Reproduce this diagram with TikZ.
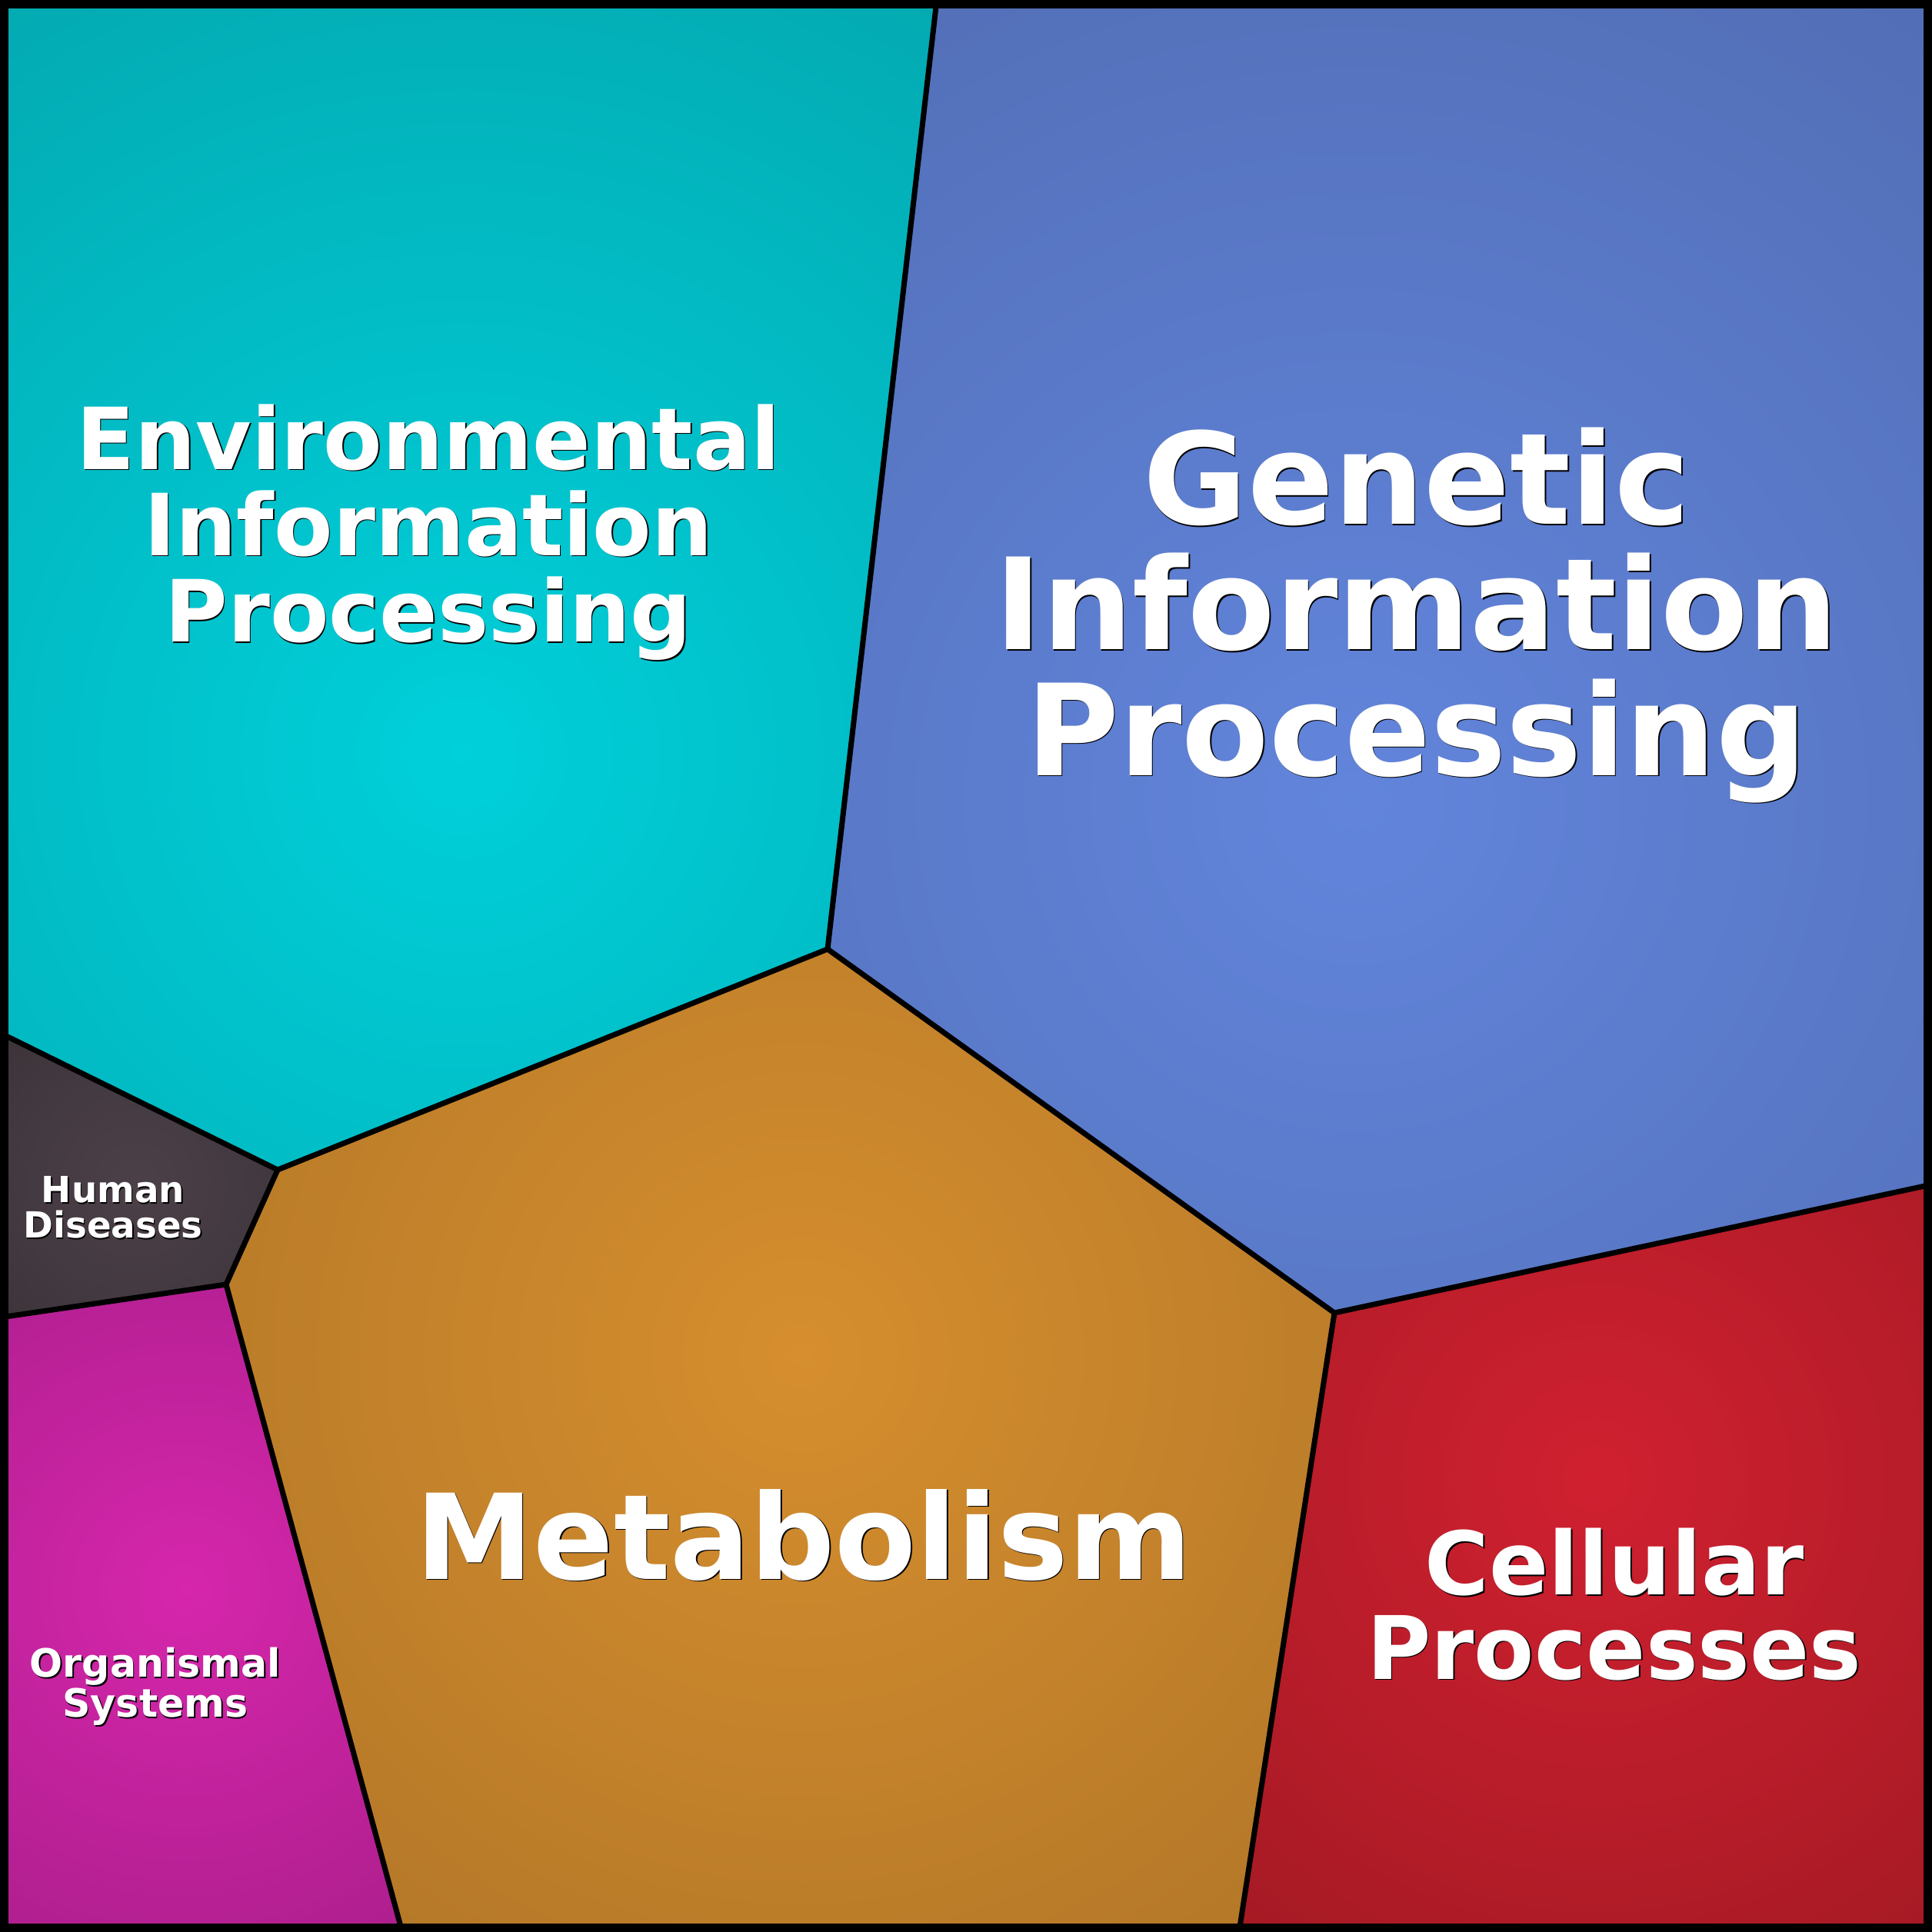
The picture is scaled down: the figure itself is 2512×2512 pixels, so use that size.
\documentclass[tikz,border=0pt]{standalone}
\usepackage{fontspec}
\setmainfont{DejaVu Sans}
\usetikzlibrary{calc}

\definecolor{envin}{RGB}{0,208,218}
\definecolor{envout}{RGB}{3,170,178}
\definecolor{genin}{RGB}{98,133,220}
\definecolor{genout}{RGB}{82,110,182}
\definecolor{metin}{RGB}{214,142,46}
\definecolor{metout}{RGB}{180,120,40}
\definecolor{cellin}{RGB}{208,32,48}
\definecolor{cellout}{RGB}{165,26,36}
\definecolor{hdin}{RGB}{76,64,72}
\definecolor{hdout}{RGB}{58,50,56}
\definecolor{osin}{RGB}{214,38,172}
\definecolor{osout}{RGB}{172,30,140}

% path, inner colour, outer colour, centre, radius
\newcommand\vcell[5]{%
  \begin{scope}
    \clip #1;
    \fill[#3] #1;
    \shade[inner color=#2, outer color=#3] #4 circle (#5);
  \end{scope}}

% name, position, font size, line skip, text
\newcommand\celltext[5]{%
  \node[celltext, text=black, font=\fontsize{#3}{#4}\selectfont\bfseries]
    at ($(#2)+(1.5,1.5)$) {#5};
  \node[celltext, font=\fontsize{#3}{#4}\selectfont\bfseries] (#1) at (#2) {#5};}

\begin{document}
\begin{tikzpicture}[x=0.01cm,y=-0.01cm]
  \tikzset{
    celltext/.style={text=white, align=center, inner sep=0pt},
    cellline/.style={line width=0.07cm, line join=round},
    frame/.style={line width=0.11cm}
  }
  \useasboundingbox (0,0) rectangle (2512,2512);

  %VERTICES
  \coordinate (top) at (1218,0);
  \coordinate (hub) at (1076,1234);
  \coordinate (envhd) at (0,1343);
  \coordinate (hdtop) at (361,1521);
  \coordinate (hdlow) at (294,1670);
  \coordinate (hdos) at (0,1713);
  \coordinate (osmet) at (523,2512);
  \coordinate (metcell) at (1735,1707);
  \coordinate (cellrt) at (2512,1540);
  \coordinate (cellbot) at (1611,2512);

  %CELLS
  \vcell{(0,0) -- (top) -- (hub) -- (hdtop) -- (envhd) -- cycle}{envin}{envout}{(600,980)}{11.5cm}
  \vcell{(top) -- (2512,0) -- (cellrt) -- (metcell) -- (hub) -- cycle}{genin}{genout}{(1762,1040)}{12.5cm}
  \vcell{(hub) -- (metcell) -- (cellbot) -- (osmet) -- (hdlow) -- (hdtop) -- cycle}{metin}{metout}{(1041,1762)}{9.5cm}
  \vcell{(metcell) -- (cellrt) -- (2512,2512) -- (cellbot) -- cycle}{cellin}{cellout}{(2075,1922)}{7.5cm}
  \vcell{(envhd) -- (hdtop) -- (hdlow) -- (hdos) -- cycle}{hdin}{hdout}{(176,1538)}{3cm}
  \vcell{(hdos) -- (hdlow) -- (osmet) -- (0,2512) -- cycle}{osin}{osout}{(240,2067)}{5.5cm}

  %EDGES
  \draw[cellline] (top) -- (hub) -- (hdtop) -- (envhd);
  \draw[cellline] (hub) -- (metcell) -- (cellrt);
  \draw[cellline] (metcell) -- (cellbot);
  \draw[cellline] (hdtop) -- (hdlow) -- (hdos);
  \draw[cellline] (hdlow) -- (osmet);
  \draw[frame] (5.5,5.5) rectangle (2506.5,2506.5);

  %LABELS
  \coordinate (envpos) at (557,692);
  \coordinate (genpos) at (1842,800);
  \coordinate (metpos) at (1045,1996);
  \coordinate (cellpos) at (2099,2086);
  \coordinate (hdpos) at (147,1570);
  \coordinate (ospos) at (202,2193);
  \celltext{env}{envpos}{31.7}{31.9}{Environmental\\Information\\Processing}
  \celltext{gen}{genpos}{47}{46.4}{Genetic\\Information\\Processing}
  \celltext{met}{metpos}{43.8}{43.8}{Metabolism}
  \celltext{cell}{cellpos}{32.4}{31}{Cellular\\Processes}
  \celltext{hd}{hdpos}{13.3}{13.1}{Human\\Diseases}
  \celltext{os}{ospos}{14.4}{13.7}{Organismal\\Systems}
\end{tikzpicture}
\end{document}
